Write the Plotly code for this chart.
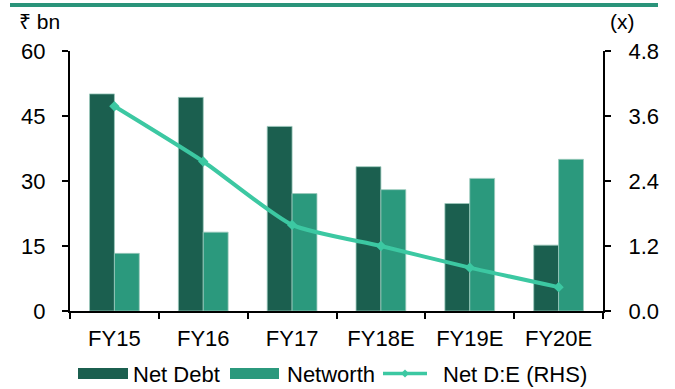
import plotly.graph_objects as go

categories = ["FY15", "FY16", "FY17", "FY18E", "FY19E", "FY20E"]
net_debt = [50.1, 49.3, 42.6, 33.3, 24.8, 15.2]
networth = [13.3, 18.2, 27.1, 28.0, 30.6, 35.0]
net_de = [3.78, 2.76, 1.59, 1.20, 0.80, 0.44]
left_ticks = [0, 15, 30, 45, 60]
right_ticks = [0.0, 1.2, 2.4, 3.6, 4.8]
series_names = ["Net Debt", "Networth", "Net D:E (RHS)"]

C_DEBT = "#1b5f4f"
C_NW = "#2b997d"
C_LINE = "#3cc8a2"
FONT = "Liberation Sans, Arial, sans-serif"

# plot-area pixel geometry helpers (for decorations / custom legend only)
L, R, T, B = 70, 603, 51, 311
def px(x):
    return (x - L) / (R - L)
def py(y):
    return (B - y) / (B - T)

fig = go.Figure()
fig.add_trace(go.Bar(x=categories, y=net_debt, name=series_names[0],
                     marker=dict(color=C_DEBT, line=dict(color="#9cc9bc", width=0.8))))
fig.add_trace(go.Bar(x=categories, y=networth, name=series_names[1],
                     marker=dict(color=C_NW, line=dict(color="#9cc9bc", width=0.8))))
fig.add_trace(go.Scatter(x=categories, y=net_de, name=series_names[2], yaxis="y2",
                         mode="lines+markers",
                         line=dict(color=C_LINE, width=4, shape="spline", smoothing=0.6),
                         marker=dict(symbol="diamond", size=8, color=C_LINE)))

ly = 373.5
shapes = [
    dict(type="line", xref="paper", yref="paper", x0=px(10), x1=px(658), y0=py(5), y1=py(5),
         line=dict(color="#2a947a", width=4)),
    dict(type="rect", xref="paper", yref="paper", x0=px(78), x1=px(128), y0=py(368), y1=py(379),
         fillcolor=C_DEBT, line=dict(width=0)),
    dict(type="rect", xref="paper", yref="paper", x0=px(230), x1=px(279), y0=py(368), y1=py(379),
         fillcolor=C_NW, line=dict(width=0)),
    dict(type="line", xref="paper", yref="paper", x0=px(383), x1=px(427), y0=py(ly), y1=py(ly),
         line=dict(color=C_LINE, width=3.5)),
    dict(type="path", xref="paper", yref="paper",
         path=f"M {px(405)} {py(ly-4)} L {px(409)} {py(ly)} L {px(405)} {py(ly+4)} L {px(401)} {py(ly)} Z",
         fillcolor=C_LINE, line=dict(width=0)),
]

annotations = [
    dict(text="₹ bn", xref="paper", yref="paper", x=px(17), y=py(22),
         xanchor="left", yanchor="middle", showarrow=False, font=dict(size=21)),
    dict(text="(x)", xref="paper", yref="paper", x=px(608), y=py(22),
         xanchor="left", yanchor="middle", showarrow=False, font=dict(size=21)),
]
for name, x0 in zip(series_names, [131, 285, 441]):
    annotations.append(dict(text=name, xref="paper", yref="paper", x=px(x0), y=py(ly + 1),
                            xanchor="left", yanchor="middle", showarrow=False,
                            font=dict(size=22)))

fig.update_layout(
    width=675, height=389,
    margin=dict(l=L, r=675 - R, t=T, b=389 - B, autoexpand=False),
    paper_bgcolor="white", plot_bgcolor="white",
    font=dict(family=FONT, size=22, color="black"),
    barmode="group", bargap=0.44, bargroupgap=0,
    showlegend=False,
    xaxis=dict(showline=True, linecolor="black", linewidth=2, ticks="outside",
               tickson="boundaries", ticklen=6, tickwidth=2, tickcolor="black",
               showgrid=False, ticklabelstandoff=7, tickfont=dict(size=22)),
    yaxis=dict(range=[0, 60], tickvals=left_ticks, showline=True, linecolor="black",
               linewidth=2, ticks="outside", ticklen=6, tickwidth=2, tickcolor="black",
               showgrid=False, zeroline=False, ticklabelstandoff=12, tickfont=dict(size=22)),
    yaxis2=dict(range=[0, 4.8], tickvals=right_ticks, tickformat=".1f", overlaying="y",
                side="right", showline=True, linecolor="black", linewidth=2,
                ticks="outside", ticklen=6, tickwidth=2, tickcolor="black",
                showgrid=False, zeroline=False, ticklabelstandoff=13, tickfont=dict(size=22)),
    shapes=shapes,
    annotations=annotations,
)

fig.write_html("out.html")
